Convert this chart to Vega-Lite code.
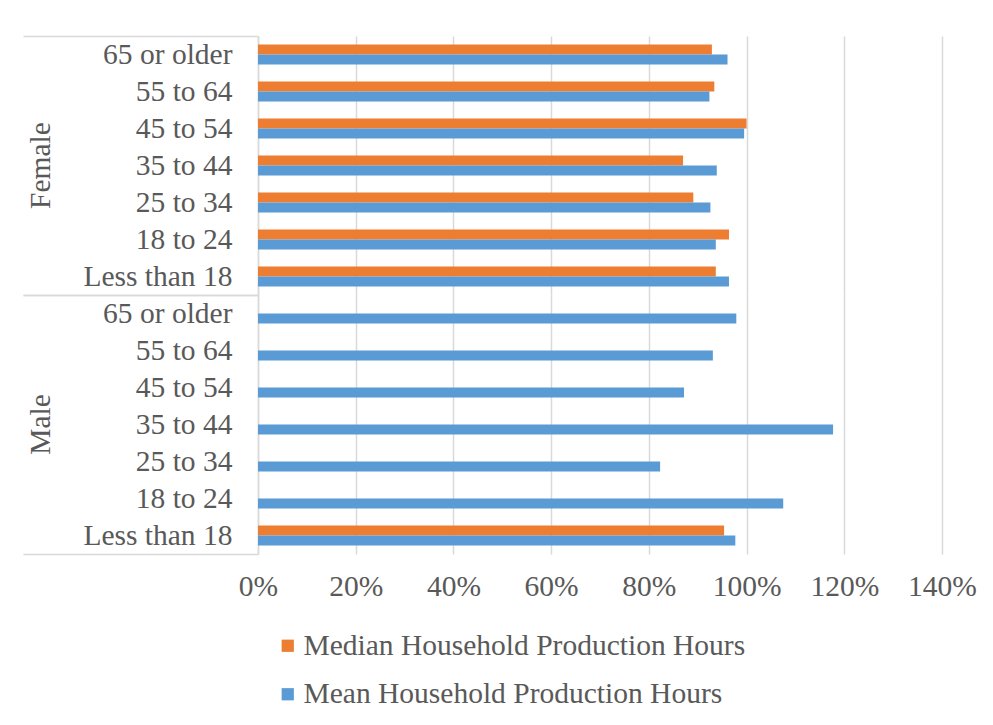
{
  "$schema": "https://vega.github.io/schema/vega-lite/v6.json",
  "background": "white",
  "padding": {"left": 22, "top": 21, "right": 10, "bottom": 10},
  "data": {"values": [
    {"gender": "Female", "age": "65 or older", "series": "Median Household Production Hours", "value": 0.929},
    {"gender": "Female", "age": "65 or older", "series": "Mean Household Production Hours", "value": 0.961},
    {"gender": "Female", "age": "55 to 64", "series": "Median Household Production Hours", "value": 0.934},
    {"gender": "Female", "age": "55 to 64", "series": "Mean Household Production Hours", "value": 0.924},
    {"gender": "Female", "age": "45 to 54", "series": "Median Household Production Hours", "value": 1.0},
    {"gender": "Female", "age": "45 to 54", "series": "Mean Household Production Hours", "value": 0.995},
    {"gender": "Female", "age": "35 to 44", "series": "Median Household Production Hours", "value": 0.870},
    {"gender": "Female", "age": "35 to 44", "series": "Mean Household Production Hours", "value": 0.939},
    {"gender": "Female", "age": "25 to 34", "series": "Median Household Production Hours", "value": 0.891},
    {"gender": "Female", "age": "25 to 34", "series": "Mean Household Production Hours", "value": 0.926},
    {"gender": "Female", "age": "18 to 24", "series": "Median Household Production Hours", "value": 0.964},
    {"gender": "Female", "age": "18 to 24", "series": "Mean Household Production Hours", "value": 0.937},
    {"gender": "Female", "age": "Less than 18", "series": "Median Household Production Hours", "value": 0.937},
    {"gender": "Female", "age": "Less than 18", "series": "Mean Household Production Hours", "value": 0.964},
    {"gender": "Male", "age": "65 or older", "series": "Mean Household Production Hours", "value": 0.979},
    {"gender": "Male", "age": "55 to 64", "series": "Mean Household Production Hours", "value": 0.931},
    {"gender": "Male", "age": "45 to 54", "series": "Mean Household Production Hours", "value": 0.872},
    {"gender": "Male", "age": "35 to 44", "series": "Mean Household Production Hours", "value": 1.177},
    {"gender": "Male", "age": "25 to 34", "series": "Mean Household Production Hours", "value": 0.823},
    {"gender": "Male", "age": "18 to 24", "series": "Mean Household Production Hours", "value": 1.075},
    {"gender": "Male", "age": "Less than 18", "series": "Median Household Production Hours", "value": 0.954},
    {"gender": "Male", "age": "Less than 18", "series": "Mean Household Production Hours", "value": 0.977}
  ]},
  "spacing": 0,
  "facet": {
    "row": {
      "field": "gender", "type": "nominal", "sort": ["Female", "Male"],
      "header": {
        "title": null,
        "labelAngle": -90,
        "labelOrient": "left",
        "labelFont": "Liberation Serif",
        "labelFontSize": 29.5,
        "labelColor": "#595959",
        "labelPadding": -48
      }
    }
  },
  "spec": {
    "width": 684,
    "height": 259,
    "mark": {"type": "bar"},
    "encoding": {
      "y": {
        "field": "age", "type": "nominal",
        "sort": ["65 or older", "55 to 64", "45 to 54", "35 to 44", "25 to 34", "18 to 24", "Less than 18"],
        "scale": {"paddingInner": 0, "paddingOuter": 0},
        "axis": {
          "title": null,
          "tickBand": "extent",
          "tickSize": 235,
          "tickWidth": 1.5,
          "tickColor": {"condition": {"test": "datum.extra || datum.value === 'Less than 18'", "value": "#d9d9d9"}, "value": "transparent"},
          "labelPadding": -209,
          "labelFont": "Liberation Serif",
          "labelFontSize": 29.5,
          "labelColor": "#595959",
          "domainColor": "#d9d9d9",
          "domainWidth": 1.5
        }
      },
      "yOffset": {
        "field": "series", "type": "nominal",
        "sort": ["Median Household Production Hours", "Mean Household Production Hours"],
        "scale": {"paddingInner": 0, "paddingOuter": 0.85}
      },
      "x": {
        "field": "value", "type": "quantitative",
        "scale": {"domain": [0, 1.4], "nice": false},
        "axis": {
          "title": null,
          "values": [0, 0.2, 0.4, 0.6, 0.8, 1.0, 1.2, 1.4],
          "format": ".0%",
          "domain": false,
          "ticks": false,
          "labelOverlap": false,
          "labelFlush": false,
          "labelPadding": 18,
          "labelFont": "Liberation Serif",
          "labelFontSize": 29.5,
          "labelColor": "#595959",
          "gridColor": "#d9d9d9",
          "gridWidth": 1.5
        }
      },
      "color": {
        "field": "series", "type": "nominal",
        "scale": {
          "domain": ["Median Household Production Hours", "Mean Household Production Hours"],
          "range": ["#ED7D31", "#5B9BD5"]
        },
        "legend": {
          "title": null,
          "orient": "none",
          "legendX": 15,
          "legendY": 595,
          "direction": "vertical",
          "symbolType": "square",
          "symbolSize": 150,
          "symbolStrokeWidth": 0,
          "labelFont": "Liberation Serif",
          "labelFontSize": 29.5,
          "labelColor": "#595959",
          "labelLimit": 0,
          "labelOffset": 1,
          "rowPadding": 17.5
        }
      }
    }
  },
  "config": {
    "view": {"stroke": null}
  }
}
